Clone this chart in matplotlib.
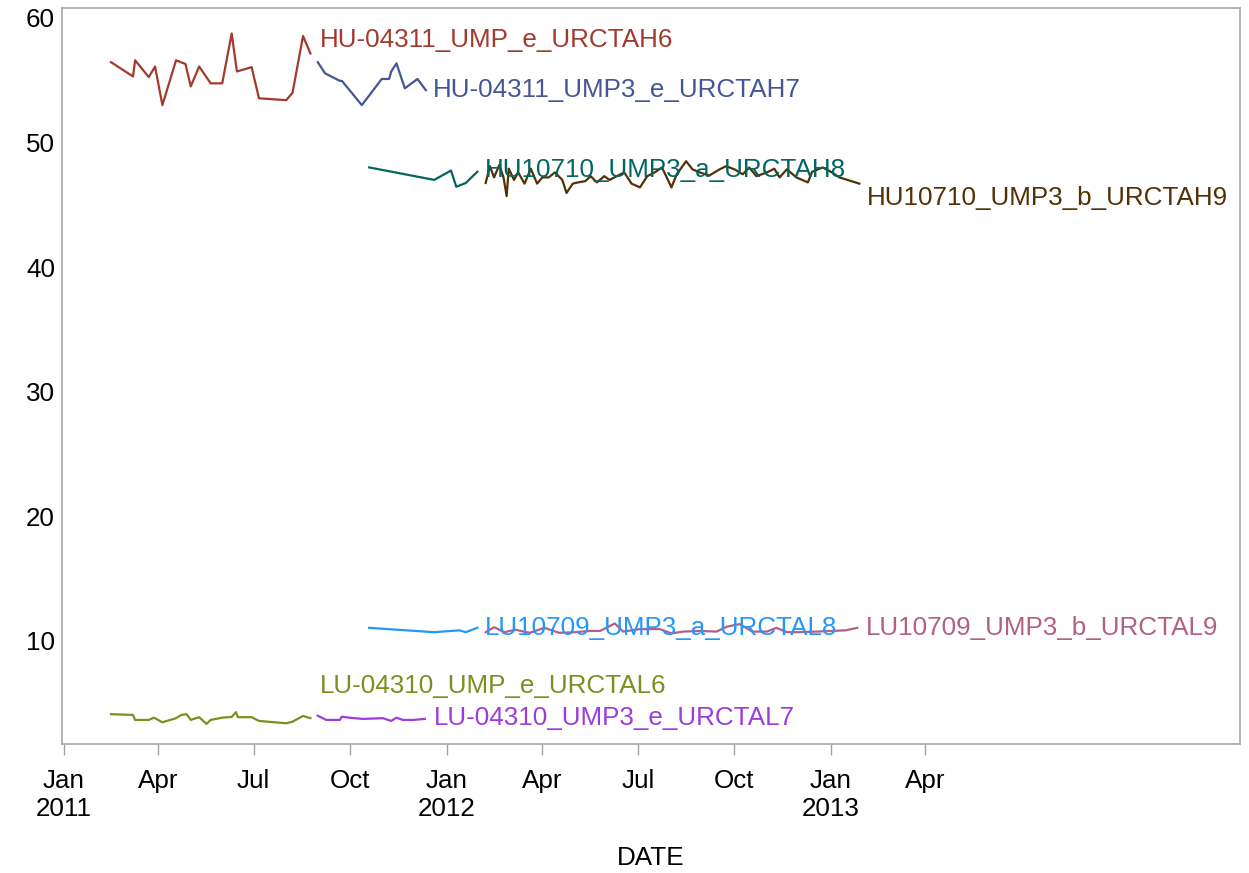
import pandas as pd
import matplotlib.pyplot as plt
import matplotlib.dates as mdates

plt.rcParams['font.family'] = ['Liberation Sans', 'DejaVu Sans']

##################################################################
# Data
##################################################################
hu6_dates = ['2011-02-15', '2011-03-08', '2011-03-10', '2011-03-23', '2011-03-29', '2011-04-05',
             '2011-04-18', '2011-04-27', '2011-05-02', '2011-05-10', '2011-05-21', '2011-06-01',
             '2011-06-10', '2011-06-15', '2011-06-29', '2011-07-06', '2011-08-01', '2011-08-07',
             '2011-08-17', '2011-08-24']
hu6_vals = [56.45, 55.3, 56.6, 55.25, 56.1, 53.0, 56.6, 56.3, 54.5, 56.1, 54.75, 54.75,
            58.75, 55.7, 56.05, 53.55, 53.4, 54.0, 58.55, 57.15]

hu7_dates = ['2011-08-31', '2011-09-07', '2011-09-21', '2011-09-23', '2011-10-12', '2011-10-31',
             '2011-11-07', '2011-11-09', '2011-11-14', '2011-11-22', '2011-12-04', '2011-12-12']
hu7_vals = [56.45, 55.55, 54.95, 54.95, 53.0, 55.1, 55.1, 55.7, 56.35, 54.35, 55.1, 54.2]

hu8_dates = ['2011-10-19', '2011-12-20', '2012-01-05', '2012-01-10', '2012-01-19', '2012-01-30']
hu8_vals = [48.0, 47.0, 47.75, 46.45, 46.75, 47.65]

hu9_dates = ['2012-02-07', '2012-02-11', '2012-02-15', '2012-02-20', '2012-02-24', '2012-02-27',
             '2012-02-29', '2012-03-05', '2012-03-09', '2012-03-15', '2012-03-21', '2012-03-27',
             '2012-04-01', '2012-04-07', '2012-04-13', '2012-04-20', '2012-04-24', '2012-04-30',
             '2012-05-05', '2012-05-12', '2012-05-17', '2012-05-23', '2012-05-30', '2012-06-04',
             '2012-06-11', '2012-06-18', '2012-06-25', '2012-07-03', '2012-07-10', '2012-07-17',
             '2012-07-24', '2012-08-02', '2012-08-07', '2012-08-16', '2012-08-22', '2012-08-29',
             '2012-09-07', '2012-09-17', '2012-09-23', '2012-10-01', '2012-10-09', '2012-10-15',
             '2012-10-22', '2012-11-01', '2012-11-08', '2012-11-13', '2012-11-20', '2012-11-29',
             '2012-12-10', '2012-12-14', '2012-12-24', '2013-01-02', '2013-01-09', '2013-01-28']
hu9_vals = [46.75, 48.1, 47.2, 48.2, 47.2, 45.7, 47.9, 47.0, 47.6, 46.7, 47.9, 46.7,
            47.2, 47.2, 47.6, 47.0, 45.95, 46.7, 46.8, 46.9, 47.3, 46.8, 47.3, 47.0,
            47.3, 47.6, 46.7, 46.4, 47.3, 47.6, 48.0, 46.4, 47.45, 48.5, 47.85, 47.6,
            47.35, 47.85, 48.1, 47.85, 47.45, 48.0, 47.3, 47.6, 47.9, 47.2, 47.85, 47.2,
            46.8, 47.65, 48.0, 47.6, 47.2, 46.7]

lu8_dates = ['2011-10-19', '2011-12-20', '2012-01-05', '2012-01-13', '2012-01-19', '2012-01-30']
lu8_vals = [11.05, 10.7, 10.8, 10.85, 10.7, 11.05]

lu9_dates = ['2012-02-07', '2012-02-15', '2012-02-25', '2012-03-06', '2012-03-20', '2012-04-03',
             '2012-04-17', '2012-05-02', '2012-05-16', '2012-05-26', '2012-06-09', '2012-06-17',
             '2012-07-03', '2012-07-22', '2012-08-02', '2012-08-13', '2012-08-29', '2012-09-14',
             '2012-09-24', '2012-10-06', '2012-10-18', '2012-11-01', '2012-11-10', '2012-11-20',
             '2012-12-02', '2012-12-18', '2013-01-02', '2013-01-15', '2013-01-26']
lu9_vals = [10.7, 11.1, 10.7, 10.9, 10.65, 11.05, 10.65, 10.7, 10.8, 10.8, 11.4, 10.75,
            10.95, 10.95, 10.6, 10.75, 10.8, 10.75, 11.15, 11.35, 10.75, 10.75, 11.05, 10.7,
            10.7, 10.75, 10.8, 10.85, 11.05]

lu6_dates = ['2011-02-15', '2011-03-08', '2011-03-10', '2011-03-23', '2011-03-28', '2011-04-05',
             '2011-04-18', '2011-04-23', '2011-04-28', '2011-05-02', '2011-05-10', '2011-05-17',
             '2011-05-21', '2011-06-01', '2011-06-10', '2011-06-14', '2011-06-16', '2011-06-29',
             '2011-07-06', '2011-08-01', '2011-08-07', '2011-08-17', '2011-08-24']
lu6_vals = [4.12, 4.06, 3.66, 3.66, 3.84, 3.47, 3.80, 4.06, 4.12, 3.66, 3.88, 3.34,
            3.66, 3.84, 3.90, 4.28, 3.88, 3.88, 3.58, 3.39, 3.52, 3.98, 3.80]

lu7_dates = ['2011-08-31', '2011-09-08', '2011-09-21', '2011-09-23', '2011-09-30', '2011-10-13',
             '2011-11-01', '2011-11-09', '2011-11-14', '2011-11-20', '2011-11-30', '2011-12-11']
lu7_vals = [4.0, 3.66, 3.66, 3.92, 3.84, 3.74, 3.80, 3.58, 3.84, 3.66, 3.66, 3.74]

# name, dates, values, colour, label offset (pixels from last point)
series = [
    ('HU-04311_UMP_e_URCTAH6', hu6_dates, hu6_vals, '#A23A2E', (9, 13)),
    ('HU-04311_UMP3_e_URCTAH7', hu7_dates, hu7_vals, '#445694', (7, 0)),
    ('HU10710_UMP3_a_URCTAH8', hu8_dates, hu8_vals, '#01665E', (8, 2)),
    ('HU10710_UMP3_b_URCTAH9', hu9_dates, hu9_vals, '#543005', (8, -14)),
    ('LU10709_UMP3_a_URCTAL8', lu8_dates, lu8_vals, '#2597FA', (8, 0)),
    ('LU10709_UMP3_b_URCTAL9', lu9_dates, lu9_vals, '#B26084', (9, 0)),
    ('LU-04310_UMP_e_URCTAL6', lu6_dates, lu6_vals, '#7F8E1F', (9, 32)),
    ('LU-04310_UMP3_e_URCTAL7', lu7_dates, lu7_vals, '#9D3CDB', (9, 1)),
]

##################################################################
# Plot figure
##################################################################
fig = plt.figure(figsize=(12.49, 8.73), dpi=100)
ax = fig.add_axes([0.0496, 0.1478, 0.9432, 0.8431])

for name, d, v, col, off in series:
    dd = pd.to_datetime(d)
    ax.plot(dd, v, color=col, lw=1.6)
    ax.annotate(name, xy=(dd[-1], v[-1]), xytext=off, textcoords='offset pixels',
                color=col, fontsize=18.7, va='center', ha='left')

ax.set_xlim(pd.Timestamp('2010-12-30 07:00'), pd.Timestamp('2014-01-25 17:00'))
ax.set_ylim(1.73, 60.8)

ticks = pd.date_range('2011-01-01', '2013-04-01', freq='QS')
ax.set_xticks(ticks)
ax.set_xticklabels([t.strftime('%b') + ('\n%d' % t.year if t.month == 1 else '') for t in ticks])
ax.set_yticks([10, 20, 30, 40, 50, 60])

ax.tick_params(axis='x', length=8, width=1, color='#a0a0a0', pad=10, labelsize=18.7)
ax.tick_params(axis='y', length=0, pad=5, labelsize=18.7)
for s in ax.spines.values():
    s.set_color('#a8a8a8')
    s.set_linewidth(1.2)

ax.set_xlabel('DATE', fontsize=18.7, labelpad=18)

plt.savefig('out.png', dpi=100)
